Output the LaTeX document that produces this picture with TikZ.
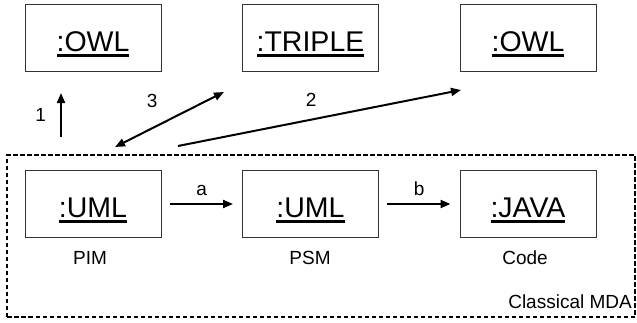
\documentclass[tikz,border=0pt]{standalone}
\usepackage{fontspec}
\setmainfont{Liberation Sans}
\usetikzlibrary{arrows.meta,positioning}
\newcommand{\objname}[1]{\setbox0\hbox{#1}\rlap{\rule[-5pt]{\wd0}{3pt}}\box0}

\begin{document}
\begin{tikzpicture}[x=1pt,y=1pt,
	obj/.style={draw=black!80,line width=1pt,minimum width=136pt,minimum height=67pt,inner sep=0pt,text height=32pt,text depth=5pt,font=\fontsize{28.5}{32}\selectfont},
	lbl/.style={inner sep=0pt,font=\fontsize{19}{22}\selectfont},
	arr/.style={line width=2pt,-{Triangle[length=10pt,width=8pt]}}]
				\useasboundingbox (0,0) rectangle (637,322);
				\node[obj] (owla) at (93,283.5) {\objname{:OWL}};
				\node[obj] (triple) at (310.5,283.5) {\objname{:TRIPLE}};
				\node[obj] (owlb) at (528,283.5) {\objname{:OWL}};
				\node[obj] (pim) at (93,118) {\objname{:UML}};
				\node[obj] (psm) at (310.5,118) {\objname{:UML}};
				\node[obj] (code) at (528,118) {\objname{:JAVA}};
				\node[lbl] (pimtxt) at (90,64) {PIM};
				\node[lbl] (psmtxt) at (310,64) {PSM};
				\node[lbl] (codetxt) at (525,64) {Code};
				\draw[line width=1.6pt,dash pattern=on 4.5pt off 2.5pt] (7,5) rectangle (635,167);
				\node[lbl,anchor=east] (mda) at (632,20) {Classical MDA};
				\coordinate (s1) at (61,185);
				\coordinate (e1) at (61,229);
				\coordinate (s3) at (115,175);
				\coordinate (e3) at (224,230);
				\coordinate (s2) at (178,176);
				\coordinate (e2) at (461,232);
				\draw[arr] (s1) to node[lbl,left=14pt]{1}(e1);
				\draw[arr,{Triangle[length=10pt,width=8pt]}-{Triangle[length=10pt,width=8pt]}] (s3) to node[lbl,above left=11pt and 11pt]{3}(e3);
				\draw[arr] (s2) to node[lbl,above left=11pt and 2pt]{2}(e2);
				\draw[arr,shorten <=8pt,shorten >=9pt] (pim) to node[lbl,above=7pt]{a}(psm);
				\draw[arr,shorten <=8pt,shorten >=9pt] (psm) to node[lbl,above=7pt]{b}(code);
			\end{tikzpicture}
\end{document}
